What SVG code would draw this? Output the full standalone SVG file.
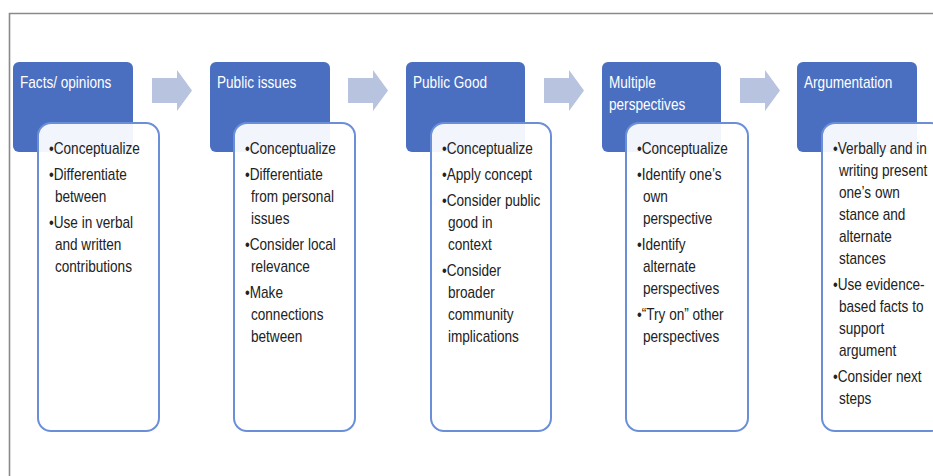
<svg xmlns="http://www.w3.org/2000/svg" width="933" height="476" viewBox="0 0 933 476">
<style>
.frame{fill:none;stroke:#8a8a8a;stroke-width:1.6}
.hdr{fill:#4a6ec0}
.body{fill:#ffffff;fill-opacity:0.93;stroke:#6a8fd8;stroke-width:2}
.arr{fill:#b7c3df}
.t{font-family:"Liberation Sans",Arial,sans-serif;font-size:16px;fill:#ffffff}
.b{font-family:"Liberation Sans",Arial,sans-serif;font-size:16px;fill:#222222}
</style>
<defs>
<path id="arrowShape" d="M0,8 H25 V0 L40,20.5 L25,41 V33 H0 Z"/>
</defs>
<rect x="0" y="0" width="933" height="476" fill="#ffffff"/>
<path class="frame" d="M9.5,480 V13.5 H940"/>

<g id="connectors">
<use href="#arrowShape" class="arr" x="152" y="70"/>
<use href="#arrowShape" class="arr" x="348" y="70"/>
<use href="#arrowShape" class="arr" x="544" y="70"/>
<use href="#arrowShape" class="arr" x="740" y="70"/>
</g>

<g id="node-facts">
<rect class="hdr" x="13" y="62" width="120" height="90" rx="6"/>
<rect class="body" x="38" y="123" width="121" height="308" rx="13"/>
<g transform="translate(20,0) scale(0.85,1)">
<text class="t" x="0" y="88">Facts/ opinions</text>
</g>
<g transform="translate(49,0) scale(0.85,1)">
<text class="b" x="0" y="154">•Conceptualize</text>
<text class="b" x="0" y="180">•Differentiate</text>
<text class="b" x="7" y="202">between</text>
<text class="b" x="0" y="228">•Use in verbal</text>
<text class="b" x="7" y="250">and written</text>
<text class="b" x="7" y="272">contributions</text>
</g>
</g>

<g id="node-public-issues">
<rect class="hdr" x="210" y="62" width="120" height="90" rx="6"/>
<rect class="body" x="234" y="123" width="121" height="308" rx="13"/>
<g transform="translate(217,0) scale(0.85,1)">
<text class="t" x="0" y="88">Public issues</text>
</g>
<g transform="translate(245,0) scale(0.85,1)">
<text class="b" x="0" y="154">•Conceptualize</text>
<text class="b" x="0" y="180">•Differentiate</text>
<text class="b" x="7" y="202">from personal</text>
<text class="b" x="7" y="224">issues</text>
<text class="b" x="0" y="250">•Consider local</text>
<text class="b" x="7" y="272">relevance</text>
<text class="b" x="0" y="298">•Make</text>
<text class="b" x="7" y="320">connections</text>
<text class="b" x="7" y="342">between</text>
</g>
</g>

<g id="node-public-good">
<rect class="hdr" x="406" y="62" width="119" height="90" rx="6"/>
<rect class="body" x="431" y="123" width="120" height="308" rx="13"/>
<g transform="translate(413,0) scale(0.85,1)">
<text class="t" x="0" y="88">Public Good</text>
</g>
<g transform="translate(442,0) scale(0.85,1)">
<text class="b" x="0" y="154">•Conceptualize</text>
<text class="b" x="0" y="180">•Apply concept</text>
<text class="b" x="0" y="206">•Consider public</text>
<text class="b" x="7" y="228">good in</text>
<text class="b" x="7" y="250">context</text>
<text class="b" x="0" y="276">•Consider</text>
<text class="b" x="7" y="298">broader</text>
<text class="b" x="7" y="320">community</text>
<text class="b" x="7" y="342">implications</text>
</g>
</g>

<g id="node-multiple-perspectives">
<rect class="hdr" x="602" y="62" width="119" height="90" rx="6"/>
<rect class="body" x="626" y="123" width="122" height="308" rx="13"/>
<g transform="translate(609,0) scale(0.85,1)">
<text class="t" x="0" y="88">Multiple</text>
<text class="t" x="0" y="110">perspectives</text>
</g>
<g transform="translate(637,0) scale(0.85,1)">
<text class="b" x="0" y="154">•Conceptualize</text>
<text class="b" x="0" y="180">•Identify one’s</text>
<text class="b" x="7" y="202">own</text>
<text class="b" x="7" y="224">perspective</text>
<text class="b" x="0" y="250">•Identify</text>
<text class="b" x="7" y="272">alternate</text>
<text class="b" x="7" y="294">perspectives</text>
<text class="b" x="0" y="320">•“Try on” other</text>
<text class="b" x="7" y="342">perspectives</text>
</g>
</g>

<g id="node-argumentation">
<rect class="hdr" x="797" y="62" width="120" height="90" rx="6"/>
<rect class="body" x="822" y="123" width="122" height="308" rx="13"/>
<g transform="translate(804,0) scale(0.85,1)">
<text class="t" x="0" y="88">Argumentation</text>
</g>
<g transform="translate(833,0) scale(0.85,1)">
<text class="b" x="0" y="154">•Verbally and in</text>
<text class="b" x="7" y="176">writing present</text>
<text class="b" x="7" y="198">one’s own</text>
<text class="b" x="7" y="220">stance and</text>
<text class="b" x="7" y="242">alternate</text>
<text class="b" x="7" y="264">stances</text>
<text class="b" x="0" y="290">•Use evidence-</text>
<text class="b" x="7" y="312">based facts to</text>
<text class="b" x="7" y="334">support</text>
<text class="b" x="7" y="356">argument</text>
<text class="b" x="0" y="382">•Consider next</text>
<text class="b" x="7" y="404">steps</text>
</g>
</g>
</svg>
